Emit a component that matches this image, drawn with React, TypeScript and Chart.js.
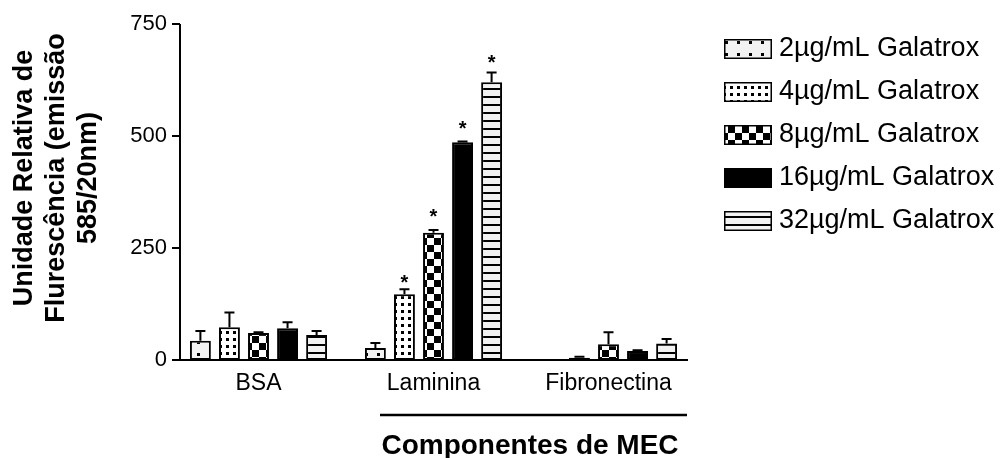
import { useEffect, useRef } from 'react';
import { Chart, registerables } from 'chart.js';

Chart.register(...registerables);

const FONT = "'Liberation Sans', Arial, Helvetica, sans-serif";

const categories = ['BSA', 'Laminina', 'Fibronectina'];
const seriesLabels = [
  '2µg/mL Galatrox',
  '4µg/mL Galatrox',
  '8µg/mL Galatrox',
  '16µg/mL Galatrox',
  '32µg/mL Galatrox',
];

// mean values per category (BSA, Laminina, Fibronectina)
const values2 = [43, 27, 0];
const values4 = [73, 147, 5];
const values8 = [60, 284, 35];
const values16 = [71, 486, 20];
const values32 = [56, 620, 37];

// upper error (SEM) per category
const errors2 = [22, 11, 0];
const errors4 = [33, 11, 2];
const errors8 = [2, 6, 27];
const errors16 = [13, 2, 2];
const errors32 = [9, 22, 10];

// significance marker levels (data units), null = none
const stars2 = [null, null, null];
const stars4 = [null, 181, null];
const stars8 = [null, 328, null];
const stars16 = [null, 525, null];
const stars32 = [null, 672, null];

const yTicks = [0, 250, 500, 750];
const yTitleLines = ['Unidade Relativa de', 'Flurescência (emissão', '585/20nm)'];
const xTitle = 'Componentes de MEC';

const seriesValues = [values2, values4, values8, values16, values32];
const seriesErrors = [errors2, errors4, errors8, errors16, errors32];
const seriesStars = [stars2, stars4, stars8, stars16, stars32];

function makeTile(w: number, h: number, draw: (g: CanvasRenderingContext2D) => void): CanvasPattern {
  const c = document.createElement('canvas');
  c.width = w;
  c.height = h;
  const g = c.getContext('2d')!;
  draw(g);
  return g.createPattern(c, 'repeat')!;
}

function makePatterns(): (CanvasPattern | string)[] {
  const p2 = makeTile(12, 12, (g) => {
    g.fillStyle = '#f2f2f2';
    g.fillRect(0, 0, 12, 12);
    g.fillStyle = '#000';
    g.fillRect(5, 5, 3, 3);
  });
  const p4 = makeTile(7, 7, (g) => {
    g.fillStyle = '#ffffff';
    g.fillRect(0, 0, 7, 7);
    g.fillStyle = '#000';
    g.fillRect(2, 2, 3, 3);
  });
  const p8 = makeTile(14, 14, (g) => {
    g.fillStyle = '#ffffff';
    g.fillRect(0, 0, 14, 14);
    g.fillStyle = '#000';
    g.fillRect(0, 0, 7, 7);
    g.fillRect(7, 7, 7, 7);
  });
  const p32 = makeTile(8, 8, (g) => {
    g.fillStyle = '#f2f2f2';
    g.fillRect(0, 0, 8, 8);
    g.fillStyle = '#000';
    g.fillRect(0, 0, 8, 2);
  });
  return [p2, p4, p8, '#000000', p32];
}

const decorPlugin = {
  id: 'decor',
  afterDatasetsDraw(chart: any) {
    const ctx = chart.ctx as CanvasRenderingContext2D;
    const y = chart.scales.y;
    ctx.save();
    ctx.strokeStyle = '#000';
    ctx.lineWidth = 2;
    chart.data.datasets.forEach((ds: any, di: number) => {
      const meta = chart.getDatasetMeta(di);
      meta.data.forEach((bar: any, i: number) => {
        const v = ds.data[i];
        const e = seriesErrors[di][i];
        if (!e) return;
        const top = y.getPixelForValue(v + e);
        ctx.beginPath();
        ctx.moveTo(bar.x, bar.y);
        ctx.lineTo(bar.x, top);
        ctx.moveTo(bar.x - 5, top);
        ctx.lineTo(bar.x + 5, top);
        ctx.stroke();
      });
    });
    // stars
    const fs = 20;
    ctx.fillStyle = '#000';
    ctx.font = `bold ${fs}px ${FONT}`;
    ctx.textAlign = 'center';
    ctx.textBaseline = 'middle';
    chart.data.datasets.forEach((_ds: any, di: number) => {
      const meta = chart.getDatasetMeta(di);
      meta.data.forEach((bar: any, i: number) => {
        const s = seriesStars[di][i];
        if (s == null) return;
        ctx.fillText('*', bar.x, y.getPixelForValue(s) + 0.22 * fs);
      });
    });
    ctx.restore();
  },
  afterDraw(chart: any) {
    const ctx = chart.ctx as CanvasRenderingContext2D;
    const area = chart.chartArea;
    const y = chart.scales.y;
    const axisX = area.left + 9;
    const y0 = y.getPixelForValue(0);
    const yTop = y.getPixelForValue(yTicks[yTicks.length - 1]);
    ctx.save();
    ctx.strokeStyle = '#000';
    ctx.lineWidth = 2;
    // y axis
    ctx.beginPath();
    ctx.moveTo(axisX, yTop);
    ctx.lineTo(axisX, y0 + 1);
    ctx.stroke();
    yTicks.forEach((t) => {
      const py = y.getPixelForValue(t);
      ctx.beginPath();
      ctx.moveTo(axisX - 8, py);
      ctx.lineTo(axisX, py);
      ctx.stroke();
    });
    // x axis
    ctx.beginPath();
    ctx.moveTo(axisX, y0);
    ctx.lineTo(area.right - 8, y0);
    ctx.stroke();

    // y title (rotated, 3 lines)
    ctx.fillStyle = '#000';
    ctx.font = `bold 27px ${FONT}`;
    ctx.textAlign = 'center';
    ctx.textBaseline = 'middle';
    yTitleLines.forEach((line, i) => {
      ctx.save();
      ctx.translate(25 + i * 32, 178);
      ctx.rotate(-Math.PI / 2);
      ctx.fillText(line, 0, 0);
      ctx.restore();
    });

    // x group line + title
    ctx.lineWidth = 2.5;
    ctx.beginPath();
    ctx.moveTo(380, 415);
    ctx.lineTo(687, 415);
    ctx.stroke();
    ctx.font = `bold 28px ${FONT}`;
    ctx.textBaseline = 'alphabetic';
    ctx.fillText(xTitle, 530, 454);

    // legend
    const patterns = chart.data.datasets.map((d: any) => d.backgroundColor);
    ctx.font = `27px ${FONT}`;
    ctx.textAlign = 'left';
    ctx.textBaseline = 'middle';
    ctx.lineWidth = 1.5;
    seriesLabels.forEach((lab, i) => {
      const cy = 49 + i * 43;
      ctx.fillStyle = patterns[i];
      ctx.fillRect(724, cy - 10, 48, 20);
      ctx.strokeRect(724.75, cy - 9.25, 46.5, 18.5);
      ctx.fillStyle = '#000';
      ctx.fillText(lab, 779, cy);
    });
    ctx.restore();
  },
};

export default function App() {
  const ref = useRef<HTMLCanvasElement | null>(null);
  useEffect(() => {
    document.body.style.margin = '0';
    const patterns = makePatterns();
    const chart = new Chart(ref.current!, {
      type: 'bar',
      data: {
        labels: categories,
        datasets: seriesLabels.map((label, i) => ({
          label,
          data: seriesValues[i],
          backgroundColor: patterns[i] as any,
          borderColor: '#000',
          borderWidth: 2,
          borderSkipped: false,
          categoryPercentage: 0.83,
          barPercentage: 0.72,
        })),
      },
      options: {
        responsive: false,
        animation: false,
        layout: { padding: { top: 24, right: 304, bottom: 0, left: 0 } },
        plugins: { legend: { display: false }, tooltip: { enabled: false } },
        scales: {
          x: {
            offset: true,
            grid: { display: false, drawTicks: false },
            border: { display: false },
            ticks: {
              color: '#000',
              font: { family: FONT, size: 23 },
              padding: 10,
              maxRotation: 0,
              autoSkip: false,
            },
            afterFit: (s: any) => {
              s.height = 98;
            },
          },
          y: {
            min: 0,
            max: 750,
            grid: { display: false, drawTicks: false },
            border: { display: false },
            ticks: {
              color: '#000',
              font: { family: FONT, size: 22 },
              padding: 4,
            },
            afterBuildTicks: (s: any) => {
              s.ticks = yTicks.map((v) => ({ value: v }));
            },
            afterFit: (s: any) => {
              s.width = 171;
            },
          },
        },
      },
      plugins: [decorPlugin],
    });
    return () => chart.destroy();
  }, []);
  return (
    <div style={{ position: 'fixed', left: 0, top: 0, width: 1000, height: 458, background: '#fff' }}>
      <canvas ref={ref} width={1000} height={458} />
    </div>
  );
}
